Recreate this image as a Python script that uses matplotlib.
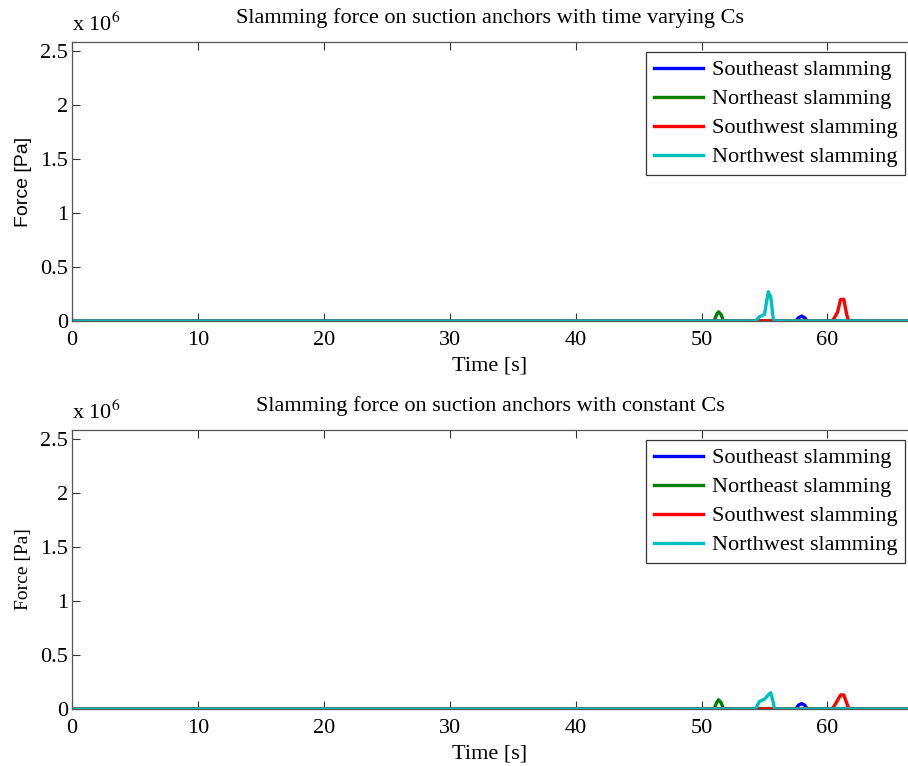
import numpy as np
import matplotlib
matplotlib.use("Agg")
import matplotlib.pyplot as plt

plt.rcParams["font.family"] = ["Liberation Serif", "DejaVu Serif"]
plt.rcParams["mathtext.fontset"] = "stix"

# time samples [s] and slamming force [Pa] for each anchor
t_se = [0.0, 57.5, 57.7, 57.95, 58.2, 58.4, 66.4]
se_vary = [0, 0, 0.03e6, 0.045e6, 0.03e6, 0, 0]
se_const = [0, 0, 0.035e6, 0.05e6, 0.035e6, 0, 0]

t_ne = [0.0, 51.0, 51.2, 51.35, 51.55, 51.75, 66.4]
ne_vary = [0, 0, 0.06e6, 0.085e6, 0.06e6, 0, 0]
ne_const = [0, 0, 0.06e6, 0.085e6, 0.06e6, 0, 0]

t_sw = [0.0, 60.4, 60.8, 61.05, 61.3, 61.55, 61.7, 66.4]
sw_vary = [0, 0, 0.08e6, 0.2e6, 0.2e6, 0.05e6, 0, 0]
sw_const = [0, 0, 0.08e6, 0.13e6, 0.13e6, 0.05e6, 0, 0]

t_nw = [0.0, 54.3, 54.6, 55.0, 55.3, 55.5, 55.7, 55.8, 66.4]
nw_vary = [0, 0, 0.04e6, 0.06e6, 0.27e6, 0.22e6, 0.02e6, 0, 0]
nw_const = [0, 0, 0.07e6, 0.09e6, 0.13e6, 0.15e6, 0.06e6, 0, 0]

labels = ["Southeast slamming", "Northeast slamming",
          "Southwest slamming", "Northwest slamming"]
colors = ["#0000ff", "#008000", "#ff0000", "#00bfbf"]

panels = [
    ("Slamming force on suction anchors with time varying Cs",
     [se_vary, ne_vary, sw_vary, nw_vary], ["Liberation Sans", "DejaVu Sans"]),
    ("Slamming force on suction anchors with constant Cs",
     [se_const, ne_const, sw_const, nw_const], ["Liberation Serif", "DejaVu Serif"]),
]
times = [t_se, t_ne, t_sw, t_nw]

fig = plt.figure(figsize=(9.08, 7.66), dpi=100)
W, H = 908, 766
boxes = [(72, 42, 908, 321), (72, 430, 908, 709)]
fs = 16

for (title, series, yfont), (x0, y0, x1, y1) in zip(panels, boxes):
    ax = fig.add_axes([x0 / W, 1 - y1 / H, (x1 - x0) / W, (y1 - y0) / H])
    for t, v, lab, c in zip(times, series, labels, colors):
        ax.plot(t, v, color=c, lw=2.4, label=lab)
    ax.set_xlim(0, 66.4)
    ax.set_ylim(0, 2.58e6)
    ax.set_xticks([0, 10, 20, 30, 40, 50, 60])
    ax.set_yticks([0, 0.5e6, 1e6, 1.5e6, 2e6, 2.5e6])
    ax.set_yticklabels(["0", "0.5", "1", "1.5", "2", "2.5"])
    ax.tick_params(direction="in", top=True, right=False, labelsize=fs,
                   length=6, width=0.8, color="#333333")
    ax.tick_params(axis="x", pad=7)
    ax.tick_params(axis="y", pad=3)
    for s in ax.spines.values():
        s.set_color("#555555")
        s.set_linewidth(0.9)
    ax.spines["right"].set_visible(False)
    ax.set_title(title, fontsize=fs, pad=14)
    ax.set_xlabel("Time [s]", fontsize=fs, labelpad=5)
    ylab = ax.set_ylabel("Force [Pa]")
    ylab.set_fontfamily(yfont)
    ylab.set_fontsize(14)
    ax.yaxis.set_label_coords(-40 / (x1 - x0), 0.5)
    ax.text(0.0, 1.02, r"x 10$^{6}$", transform=ax.transAxes,
            fontsize=fs, ha="left", va="bottom")
    leg = ax.legend(loc="upper right", bbox_to_anchor=(0.9964, 0.964),
                    borderaxespad=0, fontsize=fs, frameon=True,
                    fancybox=False, handlelength=2.2,
                    handletextpad=0.4, labelspacing=0.38, borderpad=0.35)
    leg.get_frame().set_edgecolor("black")
    leg.get_frame().set_linewidth(0.9)

fig.savefig("out.png", dpi=100)
